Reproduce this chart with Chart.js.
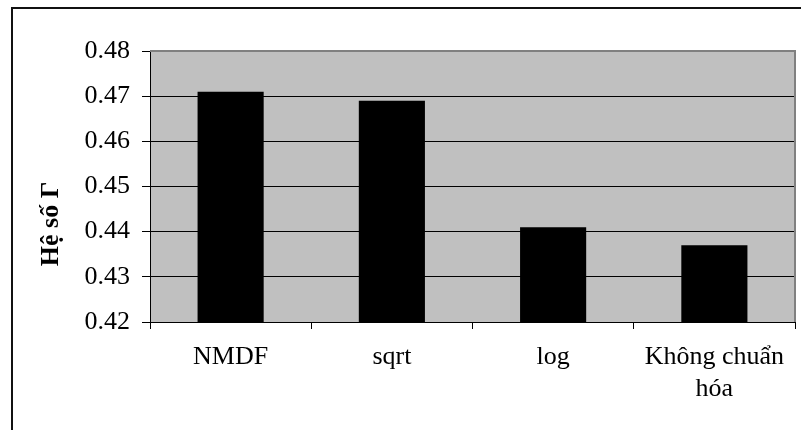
<!DOCTYPE html>
<html>
<head>
<meta charset="utf-8">
<script src="https://cdn.jsdelivr.net/npm/chart.js@4"></script>
<style>
  html, body { margin: 0; padding: 0; background: #fff; overflow: hidden; }
  #wrap { position: relative; width: 801px; height: 430px; }
  #frame { position: absolute; left: 11px; top: 7px; width: 820px; height: 460px;
           border-left: 2px solid #111; border-top: 2px solid #111; }
  canvas { position: absolute; left: 0; top: 0; }
</style>
</head>
<body>
<div id="wrap">
  <div id="frame"></div>
  <canvas id="chart" width="801" height="430"></canvas>
</div>
<script>
// ── DATA ──
const categories = ['NMDF', 'sqrt', 'log', ['Không chuẩn', 'hóa']];
const values = [0.471, 0.469, 0.441, 0.437];
const yTicks = ['0.42', '0.43', '0.44', '0.45', '0.46', '0.47', '0.48'];
const yTitle = 'Hệ số Γ';

const FONT = "'Liberation Serif', 'Times New Roman', serif";

// gray plot area + gray top/right edge, Excel style
const plotArea = {
  id: 'plotArea',
  beforeDraw(chart) {
    const { ctx, chartArea: a } = chart;
    ctx.save();
    ctx.fillStyle = '#c0c0c0';
    ctx.fillRect(a.left, a.top, a.right - a.left, a.bottom - a.top);
    ctx.restore();
  },
  beforeDatasetsDraw(chart) {
    const { ctx, chartArea: a } = chart;
    ctx.save();
    ctx.strokeStyle = '#808080';
    ctx.lineWidth = 2;
    ctx.beginPath();
    ctx.moveTo(a.left, a.top);
    ctx.lineTo(a.right, a.top);
    ctx.lineTo(a.right, a.bottom);
    ctx.stroke();
    ctx.restore();
  },
  afterDraw(chart) {
    // axis title, placed like the original (below the plot centre)
    const { ctx } = chart;
    ctx.save();
    ctx.translate(51, 224);
    ctx.rotate(-Math.PI / 2);
    ctx.font = `bold 26px ${FONT}`;
    ctx.fillStyle = '#000';
    ctx.textAlign = 'center';
    ctx.textBaseline = 'middle';
    ctx.fillText(yTitle, 0, 0);
    ctx.restore();
  }
};

new Chart(document.getElementById('chart'), {
  type: 'bar',
  data: {
    labels: categories,
    datasets: [{
      data: values,
      backgroundColor: '#000',
      borderColor: '#000',
      borderWidth: 0,
      barPercentage: 0.41,
      categoryPercentage: 1
    }]
  },
  options: {
    animation: false,
    responsive: false,
    layout: { padding: { top: 51, right: 6, left: 0, bottom: 0 } },
    plugins: { legend: { display: false }, tooltip: { enabled: false } },
    scales: {
      x: {
        afterFit: s => { s.height = 108; },
        grid: { drawOnChartArea: false, drawTicks: true, tickLength: 7, color: '#000', offset: true },
        border: { color: '#000', width: 1 },
        ticks: {
          color: '#000',
          padding: 12,
          maxRotation: 0,
          autoSkip: false,
          font: { family: FONT, size: 26, lineHeight: 1.23 }
        }
      },
      y: {
        min: 0.42,
        max: 0.48,
        afterFit: s => { s.width = 150; },
        grid: {
          color: ctx => (ctx.index === yTicks.length - 1 ? '#808080' : '#000'),
          tickColor: '#000',
          tickLength: 8,
          lineWidth: 1
        },
        border: { color: '#000', width: 1 },
        ticks: {
          stepSize: 0.01,
          color: '#000',
          padding: 12,
          font: { family: FONT, size: 26 },
          callback: (v, i) => yTicks[i]
        }
      }
    }
  },
  plugins: [plotArea]
});
</script>
</body>
</html>
